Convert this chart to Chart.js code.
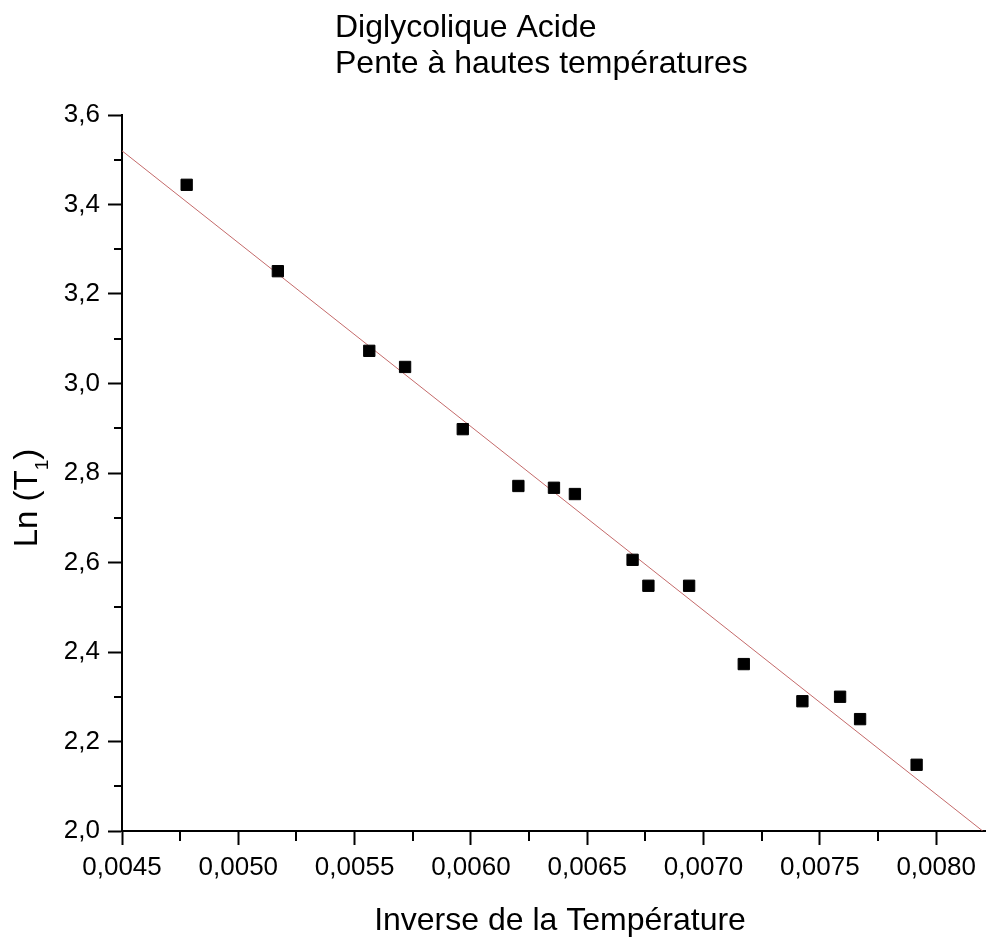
<!DOCTYPE html>
<html>
<head>
<meta charset="utf-8">
<script src="https://cdn.jsdelivr.net/npm/chart.js@4/dist/chart.umd.min.js"></script>
<style>
    html, body { margin: 0; padding: 0; background: #fff; }
    #wrap { width: 994px; height: 942px; }
</style>
</head>
<body>
<div id="wrap"><canvas id="lnChart" width="994" height="942"></canvas></div>
<script>
const inverseTemp = [0.004778, 0.005170, 0.005563, 0.005717, 0.005965, 0.006204, 0.006357, 0.006447,
                     0.006695, 0.006763, 0.006938, 0.007173, 0.007425, 0.007587, 0.007673, 0.007916];
const lnT1 = [3.444, 3.251, 3.073, 3.037, 2.898, 2.771, 2.767, 2.753,
              2.606, 2.548, 2.548, 2.373, 2.290, 2.300, 2.250, 2.148];

// droite d'ajustement (extrémités lues)
const fitX = [0.0045, 0.00820];
const fitY = [3.520, 2.000];

const titleLines = ['Diglycolique Acide', 'Pente à hautes températures'];
const xTitle = 'Inverse de la Température';
const yTitleMain = 'Ln (T';
const yTitleSub = '1';

const xMin = 0.0045, xMax = 0.00821, xStep = 0.0005;
const yMin = 2.0, yMax = 3.6, yStep = 0.2;

const FONT = '"Liberation Sans", Arial, sans-serif';

const toComma = (v, d) => v.toFixed(d).replace('.', ',');

// petites graduations + titres
const decorPlugin = {
    id: 'decor',
    afterDraw(chart) {
        const ctx = chart.ctx;
        const xs = chart.scales.x;
        const ys = chart.scales.y;
        const area = chart.chartArea;

        ctx.save();
        ctx.strokeStyle = '#000';
        ctx.lineWidth = 2;
        ctx.beginPath();
        for (let v = xMin + xStep / 2; v < xMax; v += xStep) {
            const px = Math.round(xs.getPixelForValue(v));
            ctx.moveTo(px, area.bottom);
            ctx.lineTo(px, area.bottom + 10);
        }
        for (let v = yMin + yStep / 2; v < yMax; v += yStep) {
            const py = Math.round(ys.getPixelForValue(v));
            ctx.moveTo(area.left, py);
            ctx.lineTo(area.left - 8, py);
        }
        ctx.stroke();

        ctx.fillStyle = '#000';
        ctx.font = '32px ' + FONT;
        ctx.textAlign = 'left';
        ctx.textBaseline = 'alphabetic';
        ctx.fillText(titleLines[0], 335, 37);
        ctx.fillText(titleLines[1], 335, 73);

        ctx.textAlign = 'center';
        ctx.fillText(xTitle, 560, 930);

        // titre vertical avec indice
        ctx.translate(37, 498);
        ctx.rotate(-Math.PI / 2);
        ctx.font = '33px ' + FONT;
        const wMain = ctx.measureText(yTitleMain).width;
        ctx.font = '19px ' + FONT;
        const wSub = ctx.measureText(yTitleSub).width;
        ctx.font = '33px ' + FONT;
        const wClose = ctx.measureText(')').width;
        let x0 = -(wMain + wSub + wClose) / 2;
        ctx.textAlign = 'left';
        ctx.fillText(yTitleMain, x0, 0);
        ctx.font = '19px ' + FONT;
        ctx.fillText(yTitleSub, x0 + wMain, 11);
        ctx.font = '33px ' + FONT;
        ctx.fillText(')', x0 + wMain + wSub, 0);
        ctx.restore();
    }
};

const points = inverseTemp.map((x, i) => ({ x: x, y: lnT1[i] }));
const fitLine = fitX.map((x, i) => ({ x: x, y: fitY[i] }));

const ctx = document.getElementById('lnChart').getContext('2d');
new Chart(ctx, {
    type: 'scatter',
    data: {
        datasets: [
            {
                type: 'line',
                label: 'ajustement',
                data: fitLine,
                borderColor: '#c46a6a',
                borderWidth: 1,
                pointRadius: 0,
                fill: false,
                order: 2
            },
            {
                label: 'Ln (T1)',
                data: points,
                pointStyle: 'rect',
                pointRadius: 8,
                pointHoverRadius: 8,
                backgroundColor: '#000',
                borderColor: '#000',
                borderWidth: 1,
                order: 1
            }
        ]
    },
    options: {
        responsive: false,
        animation: false,
        layout: { padding: { top: 115, right: 3, bottom: 0, left: 0 } },
        plugins: {
            legend: { display: false },
            tooltip: { enabled: false },
            title: { display: false }
        },
        scales: {
            x: {
                type: 'linear',
                min: xMin,
                max: xMax,
                afterFit: (scale) => {
                    scale.height = 111;
                    scale.paddingLeft = 0;
                    scale.paddingRight = 0;
                },
                border: { display: true, color: '#000', width: 2 },
                grid: {
                    drawOnChartArea: false,
                    drawTicks: true,
                    tickLength: 14,
                    tickColor: '#000',
                    tickWidth: 2
                },
                ticks: {
                    stepSize: xStep,
                    includeBounds: false,
                    autoSkip: false,
                    maxRotation: 0,
                    padding: 7,
                    color: '#000',
                    font: { family: FONT, size: 26 },
                    callback: (v) => toComma(v, 4)
                }
            },
            y: {
                type: 'linear',
                min: yMin,
                max: yMax,
                afterFit: (scale) => {
                    scale.width = 122;
                    scale.paddingTop = 0;
                    scale.paddingBottom = 0;
                },
                border: { display: true, color: '#000', width: 2 },
                grid: {
                    drawOnChartArea: false,
                    drawTicks: true,
                    tickLength: 14,
                    tickColor: '#000',
                    tickWidth: 2
                },
                ticks: {
                    stepSize: yStep,
                    autoSkip: false,
                    padding: 8,
                    color: '#000',
                    font: { family: FONT, size: 26 },
                    callback: (v) => toComma(v, 1)
                }
            }
        }
    },
    plugins: [decorPlugin]
});
</script>
</body>
</html>
